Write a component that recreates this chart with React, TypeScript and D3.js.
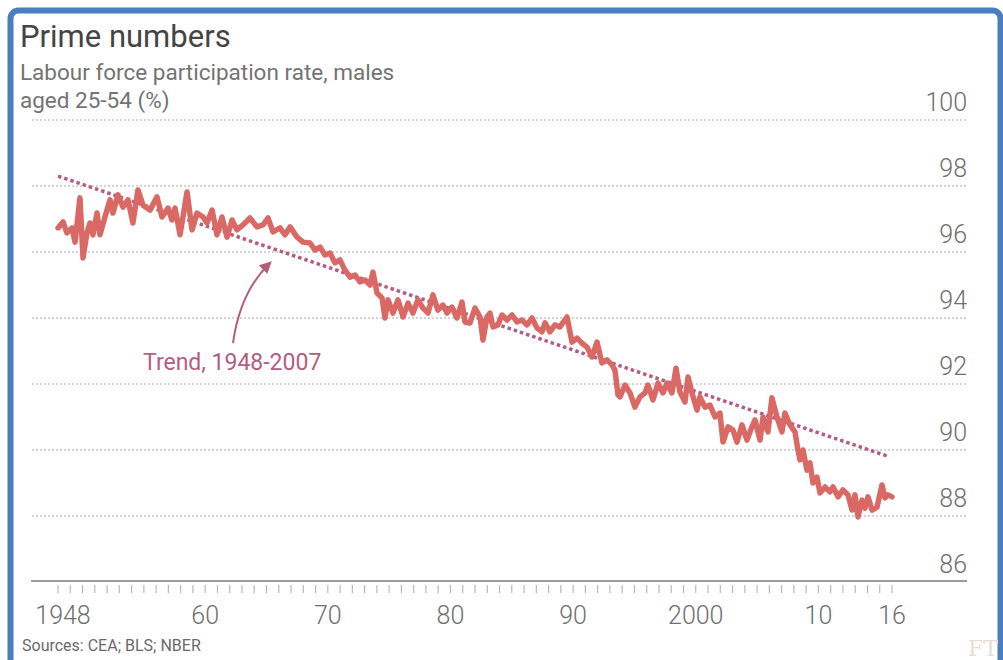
import React, { useEffect, useRef } from 'react';
import * as d3 from 'd3';

// [year, participation rate %]
const rateEarly: [number, number][] = [
  [1948.0, 96.73], [1948.41, 96.91], [1948.73, 96.58], [1949.14, 96.73], [1949.39, 96.3],
  [1949.79, 97.64], [1950.04, 95.82], [1950.36, 96.58], [1950.61, 96.88], [1950.85, 96.52],
  [1951.18, 97.18], [1951.42, 96.52], [1951.83, 97.06], [1952.24, 97.58], [1952.48, 97.18],
  [1952.89, 97.73], [1953.3, 97.36], [1953.71, 97.58], [1954.11, 96.88], [1954.52, 97.88],
  [1954.93, 97.42], [1955.5, 97.27], [1956.07, 97.67], [1956.48, 97.06], [1956.97, 97.33],
  [1957.29, 96.97], [1957.54, 97.33], [1957.95, 96.52], [1958.52, 97.82], [1958.93, 96.67],
  [1959.33, 97.18], [1959.82, 97.06], [1960.15, 96.88], [1960.56, 97.27], [1960.96, 96.52],
  [1961.37, 97.06], [1961.78, 96.45], [1962.19, 96.97], [1962.59, 96.67], [1963.08, 96.82],
  [1963.65, 97.03], [1964.22, 96.76], [1964.71, 96.82], [1965.12, 97.03], [1965.53, 96.61],
  [1966.1, 96.73], [1966.51, 96.52], [1966.92, 96.76], [1967.49, 96.45], [1967.98, 96.3],
  [1968.55, 96.27], [1968.95, 96.06], [1969.36, 96.15], [1969.77, 95.91],
];

const rateMiddle: [number, number][] = [
  [1970.18, 95.97], [1970.58, 95.67], [1970.99, 95.76], [1971.4, 95.45], [1971.81, 95.24],
  [1972.22, 95.3], [1972.62, 95.09], [1973.03, 95.15], [1973.44, 95.0], [1973.68, 95.39],
  [1974.01, 94.76], [1974.42, 94.61], [1974.66, 94.0], [1974.91, 94.55], [1975.31, 94.15],
  [1975.72, 94.55], [1976.13, 94.03], [1976.54, 94.45], [1976.94, 94.15], [1977.35, 94.55],
  [1977.76, 94.3], [1978.17, 94.15], [1978.57, 94.7], [1978.98, 94.24], [1979.39, 94.39],
  [1979.72, 94.15], [1980.12, 94.33], [1980.53, 94.0], [1980.94, 94.48], [1981.18, 93.88],
  [1981.59, 93.85], [1982.0, 94.3], [1982.41, 94.03], [1982.65, 93.33], [1982.98, 94.03],
  [1983.22, 94.15], [1983.47, 93.73], [1983.87, 93.79], [1984.2, 94.09], [1984.61, 93.94],
  [1985.02, 94.09], [1985.42, 93.88], [1985.83, 93.94], [1986.24, 93.79], [1986.65, 94.0],
  [1987.05, 93.7], [1987.46, 93.58], [1987.71, 93.85], [1988.11, 93.58], [1988.52, 93.79],
  [1988.93, 93.73], [1989.5, 94.03],
];

const rateLate: [number, number][] = [
  [1989.91, 93.27], [1990.32, 93.39], [1990.72, 93.24], [1991.13, 93.12], [1991.54, 92.82],
  [1991.95, 93.27], [1992.35, 92.64], [1992.76, 92.73], [1993.17, 92.58], [1993.41, 92.42],
  [1993.66, 91.67], [1993.82, 91.61], [1994.23, 91.97], [1994.64, 91.73], [1995.04, 91.3],
  [1995.45, 91.61], [1995.86, 91.73], [1996.1, 91.97], [1996.51, 91.52], [1996.92, 92.03],
  [1997.33, 91.73], [1997.65, 92.03], [1998.06, 91.73], [1998.39, 92.48], [1998.71, 91.76],
  [1999.12, 91.45], [1999.37, 92.21], [1999.69, 91.73], [2000.1, 91.21], [2000.34, 91.61],
  [2000.75, 91.3], [2001.16, 91.36], [2001.57, 91.0], [2001.97, 91.12], [2002.22, 90.24],
  [2002.63, 90.7], [2003.03, 90.61], [2003.36, 90.24], [2003.77, 90.76], [2004.18, 90.3],
  [2004.58, 90.7], [2004.83, 90.91], [2005.24, 90.3], [2005.48, 91.0], [2005.89, 90.55],
  [2006.21, 91.58], [2006.62, 91.0], [2007.03, 90.55], [2007.27, 91.12], [2007.68, 90.76],
  [2008.09, 90.55], [2008.33, 90.0], [2008.5, 89.7], [2008.74, 90.0], [2009.07, 89.39],
  [2009.31, 89.61], [2009.56, 89.0], [2009.88, 89.18], [2010.13, 88.7], [2010.54, 88.88],
  [2010.94, 88.73], [2011.19, 88.88], [2011.6, 88.58], [2012.0, 88.79], [2012.41, 88.64],
  [2012.74, 88.18], [2012.98, 88.64], [2013.23, 87.97], [2013.55, 88.48], [2013.8, 88.24],
  [2014.04, 88.58], [2014.37, 88.18], [2014.78, 88.27], [2015.18, 88.94], [2015.43, 88.55],
  [2015.67, 88.64], [2016.0, 88.58],
];

const trendYears = [1948, 2015.75];
const trendValues = [98.3, 89.8];

const yTicks = [86, 88, 90, 92, 94, 96, 98, 100];
const xLabelYears = [1948, 1960, 1970, 1980, 1990, 2000, 2010, 2016];
const xLabelText = ['1948', '60', '70', '80', '90', '2000', '10', '16'];

const W = 1003;
const H = 660;
const FONT = 'Roboto, "Noto Sans", sans-serif';
const RED = '#da6966';
const MAUVE = '#b45d7f';

export default function App() {
  const ref = useRef<SVGSVGElement>(null);

  useEffect(() => {
    const svg = d3.select(ref.current);
    svg.selectAll('*').remove();

    const x = d3.scaleLinear().domain([1948, 2016]).range([58, 892]);
    const y = d3.scaleLinear().domain([86, 100]).range([582, 120]);

    // frame
    svg.append('rect')
      .attr('x', 10.5).attr('y', 10.5)
      .attr('width', 990).attr('height', 720)
      .attr('rx', 8)
      .attr('fill', 'none')
      .attr('stroke', '#4a7ec0')
      .attr('stroke-width', 6);

    // titles
    svg.append('text')
      .attr('x', 20).attr('y', 47)
      .attr('font-family', FONT).attr('font-size', 31)
      .attr('fill', '#444')
      .text('Prime numbers');

    const sub = svg.append('text')
      .attr('font-family', FONT).attr('font-size', 22.5)
      .attr('fill', '#737373');
    sub.append('tspan').attr('x', 20).attr('y', 80).text('Labour force participation rate, males');
    sub.append('tspan').attr('x', 20).attr('y', 108).text('aged 25-54 (%)');

    // gridlines
    svg.append('g')
      .selectAll('line')
      .data(yTicks.filter(t => t !== 86))
      .enter().append('line')
      .attr('x1', 32).attr('x2', 967)
      .attr('y1', d => y(d)).attr('y2', d => y(d))
      .attr('stroke', '#c9c6c2')
      .attr('stroke-width', 1.6)
      .attr('stroke-dasharray', '2,2');

    // y labels
    svg.append('g')
      .selectAll('text')
      .data(yTicks)
      .enter().append('text')
      .attr('x', 967)
      .attr('y', d => y(d) - 9)
      .attr('text-anchor', 'end')
      .attr('font-family', FONT).attr('font-size', 25)
      .attr('font-weight', 300)
      .attr('fill', '#6f6f6f')
      .text(d => d);

    // x axis
    svg.append('line')
      .attr('x1', 31).attr('x2', 967)
      .attr('y1', y(86) - 1).attr('y2', y(86) - 1)
      .attr('stroke', '#9a9a9a').attr('stroke-width', 2);

    svg.append('g')
      .selectAll('line')
      .data(d3.range(1948, 2017))
      .enter().append('line')
      .attr('x1', d => x(d)).attr('x2', d => x(d))
      .attr('y1', y(86) + 3).attr('y2', y(86) + 11)
      .attr('stroke', '#b8b8b8').attr('stroke-width', 1.2);

    svg.append('g')
      .selectAll('text')
      .data(xLabelYears)
      .enter().append('text')
      .attr('x', (d, i) => x(d) + (i === 0 ? 5 : 0))
      .attr('y', 624)
      .attr('text-anchor', 'middle')
      .attr('font-family', FONT).attr('font-size', 25)
      .attr('font-weight', 300)
      .attr('fill', '#6f6f6f')
      .text((d, i) => xLabelText[i]);

    // trend
    const trend = trendYears.map((yr, i) => [yr, trendValues[i]] as [number, number]);
    const line = d3.line<[number, number]>().x(d => x(d[0])).y(d => y(d[1]));

    svg.append('path')
      .datum(trend)
      .attr('d', line)
      .attr('fill', 'none')
      .attr('stroke', MAUVE)
      .attr('stroke-width', 3.5)
      .attr('stroke-dasharray', '3.5,3');

    // series
    const series = rateEarly.concat(rateMiddle, rateLate);
    svg.append('path')
      .datum(series)
      .attr('d', line)
      .attr('fill', 'none')
      .attr('stroke', RED)
      .attr('stroke-width', 5.5)
      .attr('stroke-linejoin', 'round')
      .attr('stroke-linecap', 'round');

    // annotation
    const defs = svg.append('defs');
    defs.append('marker')
      .attr('id', 'arrow')
      .attr('viewBox', '0 0 10 10')
      .attr('refX', 8).attr('refY', 5)
      .attr('markerWidth', 12).attr('markerHeight', 12)
      .attr('markerUnits', 'userSpaceOnUse')
      .attr('orient', 'auto')
      .append('path')
      .attr('d', 'M0,0 L10,5 L0,10 z')
      .attr('fill', MAUVE);

    svg.append('path')
      .attr('d', 'M233,343 Q240,292 270,263')
      .attr('fill', 'none')
      .attr('stroke', MAUVE)
      .attr('stroke-width', 2)
      .attr('marker-end', 'url(#arrow)');

    svg.append('text')
      .attr('x', 143).attr('y', 370)
      .attr('font-family', FONT).attr('font-size', 23)
      .attr('fill', MAUVE)
      .text('Trend, 1948-2007');

    // footer
    svg.append('text')
      .attr('x', 22).attr('y', 651)
      .attr('font-family', FONT).attr('font-size', 16)
      .attr('fill', '#6a6a6a')
      .text('Sources: CEA; BLS; NBER');

    svg.append('text')
      .attr('x', 968).attr('y', 656)
      .attr('font-family', '"DejaVu Serif", serif').attr('font-size', 22)
      .attr('fill', '#e6ded2')
      .text('FT');
  }, []);

  return (
    <svg
      ref={ref}
      width={W}
      height={H}
      style={{ position: 'absolute', left: 0, top: 0, background: '#fff' }}
    />
  );
}
